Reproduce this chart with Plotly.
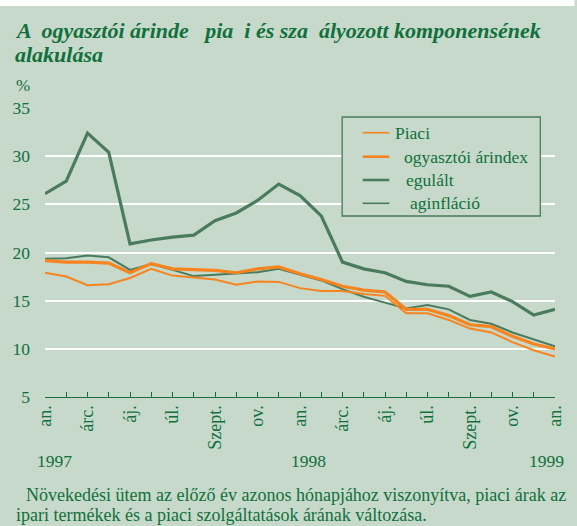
import plotly.graph_objects as go

# ---- data ----
month_idx = list(range(25))  # Jan 1997 .. Jan 1999
tick_text = ["an.", "", "árc.", "", "áj.", "", "úl.", "", "Szept.", "", "ov.", "",
             "an.", "", "árc.", "", "áj.", "", "úl.", "", "Szept.", "", "ov.", "", "an."]
year_labels = ["1997", "1998", "1999"]
year_pos = [0.45, 12.4, 23.6]

piaci = [17.9, 17.5, 16.6, 16.7, 17.35, 18.3, 17.6, 17.4, 17.2, 16.65, 17.0, 16.95,
         16.3, 16.0, 16.0, 15.7, 15.5, 13.7, 13.7, 13.0, 12.1, 11.7, 10.7, 9.85, 9.2]
fogyasztoi = [19.15, 19.0, 19.0, 18.9, 17.9, 18.85, 18.3, 18.2, 18.15, 17.9, 18.3, 18.5,
              17.8, 17.2, 16.5, 16.1, 15.9, 14.1, 14.1, 13.45, 12.5, 12.3, 11.3, 10.5, 10.0]
szabalyozott = [26.1, 27.4, 32.4, 30.4, 20.9, 21.3, 21.6, 21.8, 23.3, 24.1, 25.4, 27.1,
                25.9, 23.8, 19.0, 18.3, 17.9, 17.0, 16.65, 16.5, 15.45, 15.9, 14.9, 13.5, 14.1]
maginflacio = [19.35, 19.4, 19.7, 19.5, 18.2, 18.8, 18.2, 17.55, 17.7, 17.8, 17.95, 18.3,
               17.7, 17.1, 16.2, 15.4, 14.8, 14.2, 14.55, 14.1, 13.0, 12.6, 11.7, 10.95, 10.25]

series_names = ["Piaci", " ogyasztói árindex", " egulált", "  aginfláció"]

title_lines = ["A  ogyasztói árinde   pia  i és sza  ályozott komponensének", "alakulása"]
note_lines = ["Növekedési ütem az előző év azonos hónapjához viszonyítva, piaci árak az",
              "ipari termékek és a piaci szolgáltatások árának változása."]

# ---- style ----
BG = "#c6d9ca"
TXT = "#11703b"
DKG = "#4a7b5c"
ORG = "#f7841e"
FONT = "Liberation Serif"

W, H = 577, 526
ML, MR, MT, MB = 42, 15, 108, 129
PW, PH = W - ML - MR, H - MT - MB


def px(x):
    return (x - ML) / PW


def py(y):
    return (H - MB - y) / PH


fig = go.Figure()
styles = [(ORG, 2), (ORG, 3.2), (DKG, 3.2), (DKG, 2)]
data = [piaci, fogyasztoi, szabalyozott, maginflacio]
order = [2, 3, 0, 1]
for i in order:
    c, w = styles[i]
    fig.add_trace(go.Scatter(x=month_idx, y=data[i], mode="lines", name=series_names[i],
                             line=dict(color=c, width=w), showlegend=False))

shapes = []
annotations = []

# white strip at top
shapes.append(dict(type="rect", xref="paper", yref="paper", x0=px(-5), x1=px(W + 5),
                   y0=py(6), y1=py(-5), fillcolor="white", line=dict(width=0)))

# legend box
shapes.append(dict(type="rect", xref="paper", yref="paper", x0=px(345), x1=px(547),
                   y0=py(216), y1=py(117), fillcolor=BG, line=dict(color=DKG, width=1.3),
                   layer="above"))
leg_y = [132.7, 156.7, 180, 203.3]
leg_tx = [397, 406, 408, 412]
for i in range(4):
    c, w = styles[i]
    shapes.append(dict(type="line", xref="paper", yref="paper", x0=px(366), x1=px(393),
                       y0=py(leg_y[i]), y1=py(leg_y[i]), line=dict(color=c, width=w * 0.8),
                       layer="above"))
    annotations.append(dict(text=series_names[i].strip(), xref="paper", yref="paper",
                            x=px(leg_tx[i]), y=py(leg_y[i]), xanchor="left", yanchor="middle",
                            showarrow=False, font=dict(family=FONT, size=17.5, color=TXT)))

# title
for t, yy in zip(title_lines, [31, 54.5]):
    annotations.append(dict(text=t, xref="paper", yref="paper", x=px(9), y=py(yy),
                            xanchor="left", yanchor="middle", showarrow=False,
                            font=dict(family=FONT, size=22, color=TXT, weight="bold",
                                      style="italic")))
# % unit
annotations.append(dict(text="%", xref="paper", yref="paper", x=px(10), y=py(86),
                        xanchor="left", yanchor="middle", showarrow=False,
                        font=dict(family=FONT, size=17, color=TXT)))
# year labels
for t, xv in zip(year_labels, year_pos):
    annotations.append(dict(text=t, xref="x", yref="paper", x=xv, y=py(461),
                            xanchor="center", yanchor="middle", showarrow=False,
                            font=dict(family=FONT, size=17.5, color=TXT)))
# footnote
for t, xx, yy in zip(note_lines, [21, 10], [495, 514.5]):
    annotations.append(dict(text=t, xref="paper", yref="paper", x=px(xx), y=py(yy),
                            xanchor="left", yanchor="middle", showarrow=False,
                            font=dict(family=FONT, size=18, color=TXT)))

fig.update_layout(
    width=W, height=H,
    margin=dict(l=ML, r=MR, t=MT, b=MB, pad=0),
    paper_bgcolor=BG, plot_bgcolor=BG,
    showlegend=False,
    font=dict(family=FONT, size=17, color=TXT),
    shapes=shapes, annotations=annotations,
    xaxis=dict(range=[0, 24], tickvals=month_idx, ticktext=tick_text, tickangle=-90,
               ticks="inside", ticklen=5, tickwidth=1.3, tickcolor=TXT,
               showline=True, linecolor=TXT, linewidth=1.3, showgrid=False, zeroline=False,
               tickfont=dict(family=FONT, size=18, color=TXT), fixedrange=True),
    yaxis=dict(range=[5, 35], tickvals=[5, 10, 15, 20, 25, 30, 35], showgrid=True,
               gridcolor="white", gridwidth=2, zeroline=False, showline=False, ticks="",
               ticklabelstandoff=14,
               tickfont=dict(family=FONT, size=17.5, color=TXT), fixedrange=True),
)

fig.write_html("out.html", config={"displayModeBar": False},
               post_script="document.body.style.margin='0';document.body.style.padding='0';")
